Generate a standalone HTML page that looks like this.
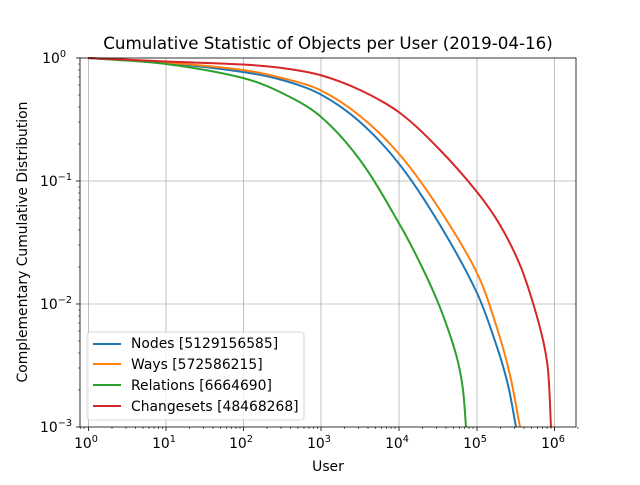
<!DOCTYPE html>
<html><head><meta charset="utf-8"><style>
body{margin:0;background:#fff;}
svg text{font-family:"DejaVu Sans","Liberation Sans",sans-serif;fill:#000;}
</style></head><body>
<svg width="640" height="480" viewBox="0 0 640 480" xmlns="http://www.w3.org/2000/svg">
<rect width="640" height="480" fill="#fff"/>
<g stroke="#b0b0b0" stroke-width="0.8">
<line x1="88.5" y1="58" x2="88.5" y2="427"/>
<line x1="166" y1="58" x2="166" y2="427"/>
<line x1="243.5" y1="58" x2="243.5" y2="427"/>
<line x1="321" y1="58" x2="321" y2="427"/>
<line x1="399" y1="58" x2="399" y2="427"/>
<line x1="477" y1="58" x2="477" y2="427"/>
<line x1="554.5" y1="58" x2="554.5" y2="427"/>
<line x1="80" y1="181" x2="576" y2="181"/>
<line x1="80" y1="304" x2="576" y2="304"/>
</g>
<g fill="none" stroke-width="2" stroke-linejoin="round" id="curves">
<path stroke="#1f77b4" data-p="88,58 166,63 243,72 282,80 320,94 360,122 400,165 440,225 477,293 497,347 508,385 516,427" d="M88,58 L166,63 L243,72 L282,80 L320,94 L360,122 L400,165 L440,225 L477,293 L497,347 L508,385 L516,427"/>
<path stroke="#ff7f0e" data-p="88,58 166,62.5 243,70 282,78 320,90 360,116 400,155 440,210 477,273 497,328 510,375 520,427" d="M88,58 L166,62.5 L243,70 L282,78 L320,90 L360,116 L400,155 L440,210 L477,273 L497,328 L510,375 L520,427"/>
<path stroke="#2ca02c" data-p="88,58 166,64 243,78 282,93 320,116 360,160 400,225 420,263 437,300 450,335 458,362 463,390 466,427" d="M88,58 L166,64 L243,78 L282,93 L320,116 L360,160 L400,225 L420,263 L437,300 L450,335 L458,362 L463,390 L466,427"/>
<path stroke="#d62728" data-p="88,58 166,61.5 243,64.5 282,68 320,75 360,90 400,113 440,150 477,192 500,225 520,265 533,303 543,340 548,370 551,427" d="M88,58 L166,61.5 L243,64.5 L282,68 L320,75 L360,90 L400,113 L440,150 L477,192 L500,225 L520,265 L533,303 L543,340 L548,370 L551,427"/>
</g>
<rect x="80" y="58" width="496" height="369" fill="none" stroke="#000" stroke-width="0.8"/>
<g stroke="#000" stroke-width="0.8">
<line x1="88.5" y1="427" x2="88.5" y2="431"/><line x1="166" y1="427" x2="166" y2="431"/><line x1="243.5" y1="427" x2="243.5" y2="431"/><line x1="321" y1="427" x2="321" y2="431"/><line x1="399" y1="427" x2="399" y2="431"/><line x1="477" y1="427" x2="477" y2="431"/><line x1="554.5" y1="427" x2="554.5" y2="431"/>
<line x1="76" y1="58" x2="80" y2="58"/><line x1="76" y1="181" x2="80" y2="181"/><line x1="76" y1="304" x2="80" y2="304"/><line x1="76" y1="427" x2="80" y2="427"/>
</g>
<g stroke="#000" stroke-width="0.6">
<path d="M112,427v2M126,427v2M135.5,427v2M143,427v2M149,427v2M154,427v2M158.5,427v2M162.5,427v2
M189.5,427v2M203.5,427v2M213,427v2M220.5,427v2M226.5,427v2M231.5,427v2M236,427v2M240,427v2
M267,427v2M281,427v2M290.5,427v2M298,427v2M304,427v2M309,427v2M313.5,427v2M317.5,427v2
M344.5,427v2M358.5,427v2M368,427v2M375.5,427v2M381.5,427v2M386.5,427v2M391,427v2M395,427v2
M422.5,427v2M436.5,427v2M446,427v2M453.5,427v2M459.5,427v2M464.5,427v2M469,427v2M473,427v2
M500.5,427v2M514.5,427v2M524,427v2M531.5,427v2M537.5,427v2M542.5,427v2M547,427v2M551,427v2
M578,427v2M84,427v2M80.5,427v2
M80,144h-2M80,122h-2M80,107h-2M80,95h-2M80,85h-2M80,77h-2M80,70h-2M80,64h-2
M80,267h-2M80,245h-2M80,230h-2M80,218h-2M80,208h-2M80,200h-2M80,193h-2M80,187h-2
M80,390h-2M80,368h-2M80,353h-2M80,341h-2M80,331h-2M80,323h-2M80,316h-2M80,310h-2"/>
</g>
<g font-size="13.9" text-anchor="middle">
<text x="86" y="448">10<tspan font-size="9.7" dy="-6">0</tspan></text>
<text x="164" y="448">10<tspan font-size="9.7" dy="-6">1</tspan></text>
<text x="241" y="448">10<tspan font-size="9.7" dy="-6">2</tspan></text>
<text x="319" y="448">10<tspan font-size="9.7" dy="-6">3</tspan></text>
<text x="397" y="448">10<tspan font-size="9.7" dy="-6">4</tspan></text>
<text x="475" y="448">10<tspan font-size="9.7" dy="-6">5</tspan></text>
<text x="553" y="448">10<tspan font-size="9.7" dy="-6">6</tspan></text>
</g>
<g font-size="13.9" text-anchor="end">
<text x="66" y="63">10<tspan font-size="9.7" dy="-6">0</tspan></text>
<text x="72" y="186">10<tspan font-size="9.7" dy="-6">−1</tspan></text>
<text x="72" y="309">10<tspan font-size="9.7" dy="-6">−2</tspan></text>
<text x="72" y="432">10<tspan font-size="9.7" dy="-6">−3</tspan></text>
</g>
<text x="328" y="471" font-size="13.9" text-anchor="middle">User</text>
<text transform="translate(27,242) rotate(-90)" font-size="13.9" text-anchor="middle">Complementary Cumulative Distribution</text>
<text x="328" y="49" font-size="16.7" text-anchor="middle">Cumulative Statistic of Objects per User (2019-04-16)</text>
<rect x="87" y="332" width="217" height="88" rx="3" fill="#fff" fill-opacity="0.8" stroke="#ccc" stroke-width="0.8"/>
<g stroke-width="2">
<line x1="93" y1="344" x2="121" y2="344" stroke="#1f77b4"/>
<line x1="93" y1="364" x2="121" y2="364" stroke="#ff7f0e"/>
<line x1="93" y1="385" x2="121" y2="385" stroke="#2ca02c"/>
<line x1="93" y1="406" x2="121" y2="406" stroke="#d62728"/>
</g>
<g font-size="13.9">
<text x="131" y="348">Nodes [5129156585]</text>
<text x="131" y="369">Ways [572586215]</text>
<text x="131" y="390">Relations [6664690]</text>
<text x="131" y="411">Changesets [48468268]</text>
</g>
</svg>
<script>
(function(){
function dist(a,b){return Math.sqrt((a[0]-b[0])*(a[0]-b[0])+(a[1]-b[1])*(a[1]-b[1]));}
var els=document.querySelectorAll('#curves path');
for(var k=0;k!==els.length;k++){
 var el=els[k];
 var p=el.getAttribute('data-p').split(' ').map(function(s){return s.split(',').map(Number);});
 var n=p.length;
 var d='M'+p[0][0]+','+p[0][1];
 for(var i=0;i!==n-1;i++){
  var p0=i>0?p[i-1]:p[i],p1=p[i],p2=p[i+1],p3=(i+2)!==n?p[i+2]:p2;
  var d01=dist(p0,p1),d12=dist(p1,p2),d23=dist(p2,p3);
  var a=d12/(3*((d01+d12)||1)), b=d12/(3*((d12+d23)||1));
  var c1x=p1[0]+(p2[0]-p0[0])*a,c1y=p1[1]+(p2[1]-p0[1])*a;
  var c2x=p2[0]-(p3[0]-p1[0])*b,c2y=p2[1]-(p3[1]-p1[1])*b;
  d+=' C'+c1x+','+c1y+' '+c2x+','+c2y+' '+p2[0]+','+p2[1];
 }
 el.setAttribute('d',d);
}
})();
</script>
</body></html>
